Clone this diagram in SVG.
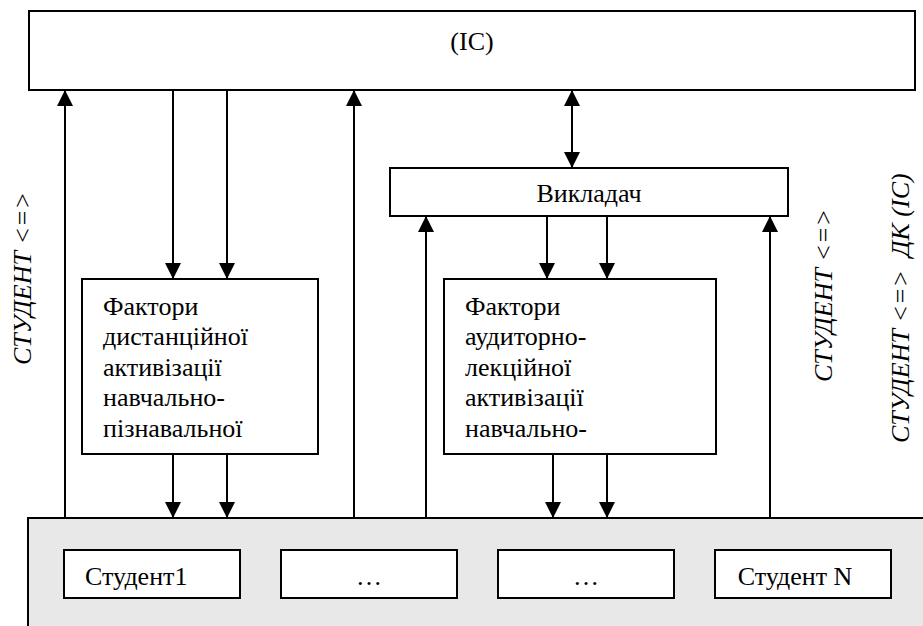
<svg xmlns="http://www.w3.org/2000/svg" width="923" height="626" viewBox="0 0 923 626">
<style>
.box{fill:#fff;stroke:#000;stroke-width:2}
.line{fill:none;stroke:#000;stroke-width:2}
.t{font-family:'Liberation Serif','Times New Roman',serif;font-size:26px;fill:#000}
.it{font-family:'Liberation Serif','Times New Roman',serif;font-size:26px;font-style:italic;fill:#000}
</style>
<defs>
<marker id="ah" markerUnits="userSpaceOnUse" markerWidth="16" markerHeight="16" refX="15" refY="7.5" orient="auto-start-reverse" viewBox="0 0 15 15">
<path d="M0,0 L15,7.5 L0,15 Z" fill="#000"/>
</marker>
</defs>
<rect width="923" height="626" fill="#fff"/>
<g id="students-area">
<rect x="28" y="518" width="905" height="120" fill="#e8e8e8" stroke="#000" stroke-width="2"/>
</g>
<g id="ic">
<rect class="box" x="29" y="11" width="886" height="79"/>
<text class="t" x="472" y="50" text-anchor="middle">(IC)</text>
</g>
<g id="teacher">
<rect class="box" x="390" y="168" width="398" height="48"/>
<text class="t" x="589" y="202" text-anchor="middle">Викладач</text>
</g>
<g id="factors-distance">
<rect class="box" x="82" y="279" width="236" height="175"/>
<text class="t" x="103" y="315">Фактори</text>
<text class="t" x="103" y="345">дистанційної</text>
<text class="t" x="103" y="376">активізації</text>
<text class="t" x="103" y="406">навчально-</text>
<text class="t" x="103" y="437">пізнавальної</text>
</g>
<g id="factors-lecture">
<rect class="box" x="444" y="279" width="272" height="175"/>
<text class="t" x="465" y="315">Фактори</text>
<text class="t" x="465" y="345">аудиторно-</text>
<text class="t" x="465" y="376">лекційної</text>
<text class="t" x="465" y="406">активізації</text>
<text class="t" x="465" y="437">навчально-</text>
</g>
<g id="student1">
<rect class="box" x="64" y="550" width="176" height="48"/>
<text class="t" x="85" y="585">Студент1</text>
</g>
<g id="student-dots1">
<rect class="box" x="281" y="550" width="176" height="48"/>
<text class="t" x="369" y="585" text-anchor="middle">…</text>
</g>
<g id="student-dots2">
<rect class="box" x="498" y="550" width="176" height="48"/>
<text class="t" x="586" y="585" text-anchor="middle">…</text>
</g>
<g id="studentN">
<rect class="box" x="715" y="550" width="176" height="48"/>
<text class="t" x="795" y="585" text-anchor="middle">Студент N</text>
</g>
<g id="labels">
<text class="it" transform="translate(31,365) rotate(-90)">СТУДЕНТ &lt;=&gt;</text>
<text class="it" transform="translate(832,382) rotate(-90)">СТУДЕНТ &lt;=&gt;</text>
<text class="it" transform="translate(909,443) rotate(-90)" xml:space="preserve">СТУДЕНТ &lt;=&gt;  ДК (IC)</text>
</g>
<g id="connectors">
<line class="line" x1="65" y1="518" x2="65" y2="90" marker-end="url(#ah)"/>
<line class="line" x1="173" y1="90" x2="173" y2="279" marker-end="url(#ah)"/>
<line class="line" x1="227" y1="90" x2="227" y2="279" marker-end="url(#ah)"/>
<line class="line" x1="173" y1="454" x2="173" y2="518" marker-end="url(#ah)"/>
<line class="line" x1="227" y1="454" x2="227" y2="518" marker-end="url(#ah)"/>
<line class="line" x1="354" y1="518" x2="354" y2="90" marker-end="url(#ah)"/>
<line class="line" x1="572" y1="90" x2="572" y2="168" marker-start="url(#ah)" marker-end="url(#ah)"/>
<line class="line" x1="426" y1="518" x2="426" y2="216" marker-end="url(#ah)"/>
<line class="line" x1="547" y1="216" x2="547" y2="279" marker-end="url(#ah)"/>
<line class="line" x1="607" y1="216" x2="607" y2="279" marker-end="url(#ah)"/>
<line class="line" x1="553" y1="454" x2="553" y2="518" marker-end="url(#ah)"/>
<line class="line" x1="607" y1="454" x2="607" y2="518" marker-end="url(#ah)"/>
<line class="line" x1="770" y1="518" x2="770" y2="216" marker-end="url(#ah)"/>
</g>
</svg>
